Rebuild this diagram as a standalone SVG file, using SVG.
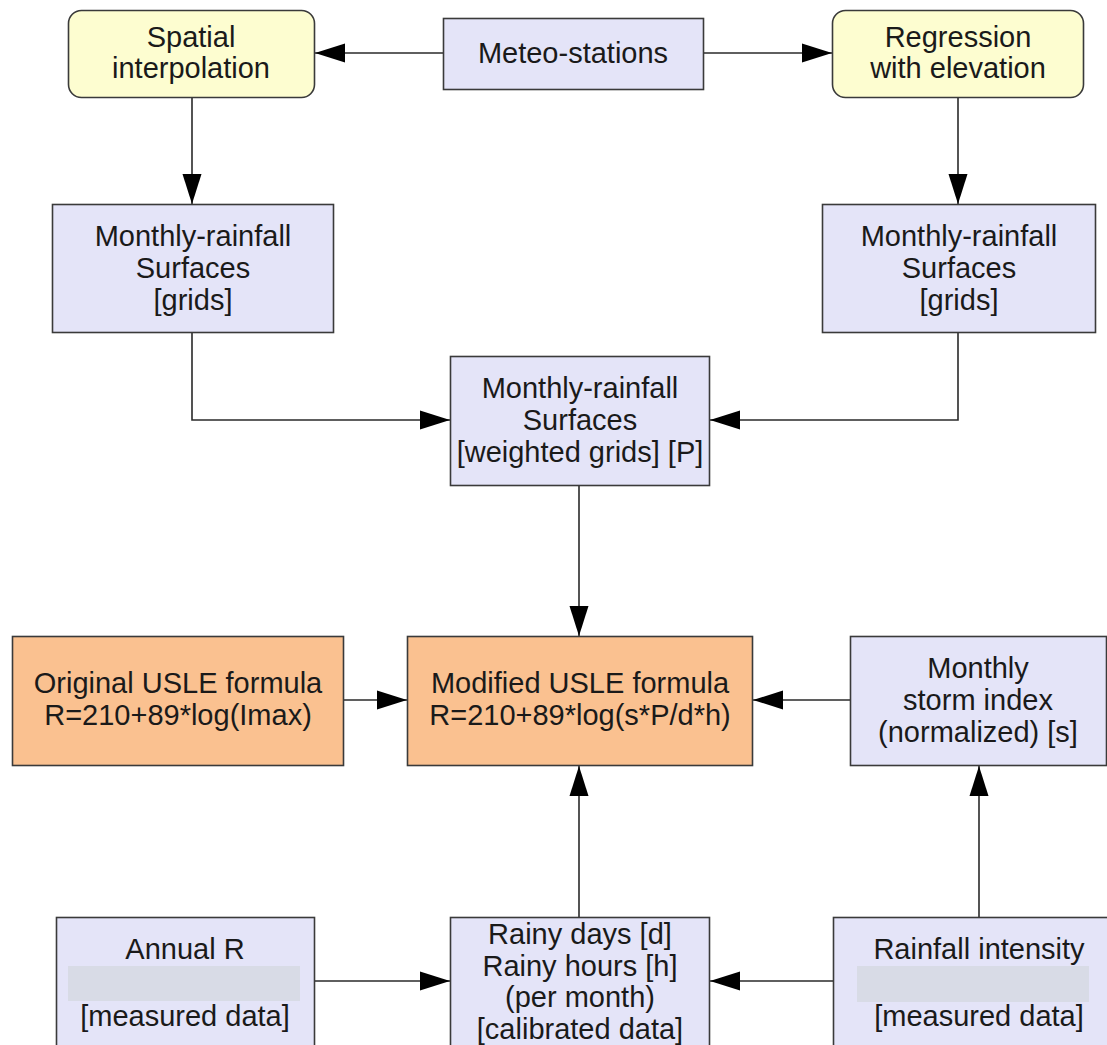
<svg xmlns="http://www.w3.org/2000/svg" width="1107" height="1045" viewBox="0 0 1107 1045">
<style>
.bg{fill:#ffffff}
.box{stroke:#3a3a3a;stroke-width:1.6}
.lav{fill:#e4e4f8}
.yel{fill:#fdfdd0}
.org{fill:#fac190}
.bar{fill:#d8dbe6}
text{font-family:"Liberation Sans",Arial,sans-serif;font-size:29px;fill:#1a1a1a;text-anchor:middle}
.con{fill:none;stroke:#2a2a2a;stroke-width:1.6}
</style>
<defs>
<marker id="ah" markerUnits="userSpaceOnUse" markerWidth="30" markerHeight="20" refX="30" refY="10" orient="auto">
<path d="M0,0.5 L30,10 L0,19.5 z" fill="#000"/>
</marker>
</defs>
<rect class="bg" x="0" y="0" width="1107" height="1045"/>

<g id="connectors">
<line class="con" x1="443" y1="53" x2="315" y2="53" marker-end="url(#ah)"/>
<line class="con" x1="703" y1="53" x2="832" y2="53" marker-end="url(#ah)"/>
<line class="con" x1="192" y1="98" x2="192" y2="204" marker-end="url(#ah)"/>
<line class="con" x1="958" y1="98" x2="958" y2="204" marker-end="url(#ah)"/>
<polyline class="con" points="192,333 192,420 450,420" marker-end="url(#ah)"/>
<polyline class="con" points="958,333 958,420 710,420" marker-end="url(#ah)"/>
<line class="con" x1="579" y1="486" x2="579" y2="636" marker-end="url(#ah)"/>
<line class="con" x1="344" y1="700" x2="407" y2="700" marker-end="url(#ah)"/>
<line class="con" x1="850" y1="700" x2="753" y2="700" marker-end="url(#ah)"/>
<line class="con" x1="579" y1="917" x2="579" y2="766" marker-end="url(#ah)"/>
<line class="con" x1="979" y1="917" x2="979" y2="766" marker-end="url(#ah)"/>
<line class="con" x1="314" y1="981" x2="450" y2="981" marker-end="url(#ah)"/>
<line class="con" x1="833" y1="981" x2="710" y2="981" marker-end="url(#ah)"/>
</g>

<g id="spatial">
<rect class="box yel" x="68.5" y="10.5" width="246" height="87" rx="13"/>
<text x="191" y="47">Spatial</text>
<text x="191" y="78">interpolation</text>
</g>

<g id="meteo">
<rect class="box lav" x="443.5" y="18.5" width="260" height="71"/>
<text x="573" y="63">Meteo-stations</text>
</g>

<g id="regression">
<rect class="box yel" x="832.5" y="10.5" width="251" height="87" rx="13"/>
<text x="958" y="47">Regression</text>
<text x="958" y="78">with elevation</text>
</g>

<g id="surf-left">
<rect class="box lav" x="52.5" y="204.5" width="281" height="128"/>
<text x="193" y="246">Monthly-rainfall</text>
<text x="193" y="278">Surfaces</text>
<text x="193" y="310">[grids]</text>
</g>

<g id="surf-right">
<rect class="box lav" x="822.5" y="204.5" width="273" height="128"/>
<text x="959" y="246">Monthly-rainfall</text>
<text x="959" y="278">Surfaces</text>
<text x="959" y="310">[grids]</text>
</g>

<g id="surf-weighted">
<rect class="box lav" x="450.5" y="356.5" width="259" height="129"/>
<text x="580" y="398">Monthly-rainfall</text>
<text x="580" y="430">Surfaces</text>
<text x="580" y="462">[weighted grids] [P]</text>
</g>

<g id="original">
<rect class="box org" x="12.5" y="636.5" width="331" height="129"/>
<text x="178" y="693">Original USLE formula</text>
<text x="178" y="725">R=210+89*log(Imax)</text>
</g>

<g id="modified">
<rect class="box org" x="407.5" y="636.5" width="345" height="129"/>
<text x="580" y="693">Modified USLE formula</text>
<text x="580" y="725">R=210+89*log(s*P/d*h)</text>
</g>

<g id="storm">
<rect class="box lav" x="850.5" y="636.5" width="256" height="129"/>
<text x="978" y="678">Monthly</text>
<text x="978" y="710">storm index</text>
<text x="978" y="742">(normalized) [s]</text>
</g>

<g id="annual">
<rect class="box lav" x="56.5" y="917.5" width="258" height="150"/>
<rect class="bar" x="68" y="966" width="232" height="35"/>
<text x="185" y="959">Annual R</text>
<text x="185" y="1026">[measured data]</text>
</g>

<g id="rainy">
<rect class="box lav" x="450.5" y="917.5" width="259" height="150"/>
<text x="580" y="944">Rainy days [d]</text>
<text x="580" y="976">Rainy hours [h]</text>
<text x="580" y="1007">(per month)</text>
<text x="580" y="1039">[calibrated data]</text>
</g>

<g id="intensity">
<rect class="box lav" x="833.5" y="917.5" width="292" height="150"/>
<rect class="bar" x="857" y="966" width="232" height="36"/>
<text x="979" y="959">Rainfall intensity</text>
<text x="979" y="1026">[measured data]</text>
</g>
</svg>
